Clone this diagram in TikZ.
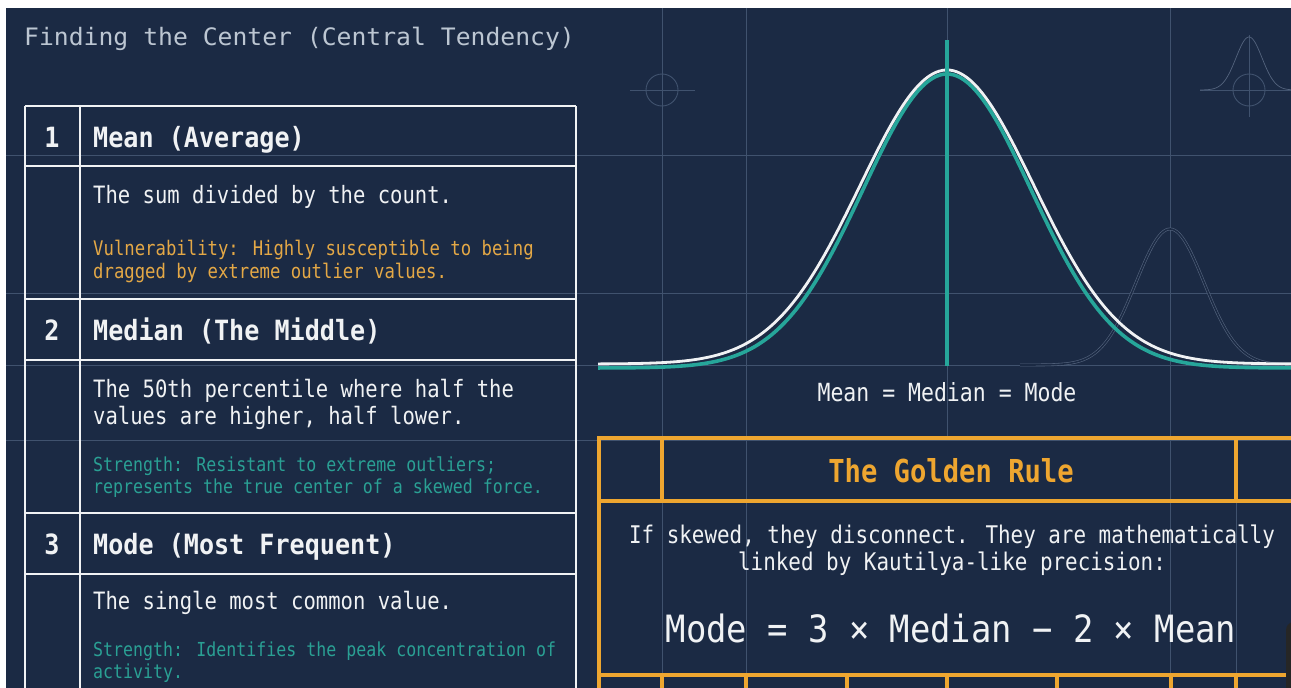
\documentclass[tikz,border=0pt]{standalone}
\usepackage{fontspec}
\newfontfamily\fbody{DejaVu Sans Mono}[FakeStretch=0.86]
\newfontfamily\fhead{DejaVu Sans Mono}[FakeStretch=0.9]
\newfontfamily\ftitle{DejaVu Sans Mono}[FakeStretch=1.03]

\definecolor{bgc}{RGB}{27,42,68}
\definecolor{gridc}{RGB}{64,82,110}
\definecolor{ghostc}{RGB}{84,100,126}
\definecolor{titlec}{RGB}{188,198,210}
\definecolor{whitec}{RGB}{240,242,244}
\definecolor{goldc}{RGB}{238,166,48}
\definecolor{goldtxt}{RGB}{228,168,70}
\definecolor{tealc}{RGB}{38,166,154}
\definecolor{tealtxt}{RGB}{42,160,148}

\begin{document}
\begin{tikzpicture}[x=1pt,y=-1pt,
  txt/.style={inner sep=0pt, anchor=base west},
  ctr/.style={inner sep=0pt, anchor=base},
  gridline/.style={draw=gridc, line width=0.9pt},
  ghost/.style={draw=ghostc, line width=0.7pt},
  tabline/.style={draw=whitec, line width=2.8pt},
  goldline/.style={draw=goldc, line width=3.1pt},
  headf/.style={font=\fhead\bfseries\fontsize{27.9}{32}\selectfont, text=whitec},
  bodyf/.style={font=\fbody\fontsize{23.9}{28}\selectfont, text=whitec},
  vulnf/.style={font=\fbody\fontsize{20.1}{23}\selectfont, text=goldtxt},
  strf/.style={font=\fbody\fontsize{19.3}{23}\selectfont, text=tealtxt}]

\useasboundingbox (0,0) rectangle (1291,688);
\fill[white] (0,0) rectangle (1291,688);
\begin{scope}
\clip (0,0) rectangle (1291,688);
\fill[bgc] (6,8) rectangle (1291,688);

% background grid
\foreach \gy in {155,293,365,440} \draw[gridline] (6,\gy) -- (1291,\gy);
\foreach \gx in {662,746,1170} \draw[gridline] (\gx,8) -- (\gx,688);
\draw[gridline] (947,8) -- (947,438);

% crosshair marks
\draw[gridline] (662,90) circle (16);
\draw[gridline] (630,90) -- (695,90);
\draw[gridline] (1249,90) circle (16);
\draw[gridline] (1200,90) -- (1291,90);
\draw[gridline] (1249,35) -- (1249,117);
\draw[ghost] plot[domain=1200:1291, samples=80, smooth]
  (\x,{90-53*exp(-0.5*((\x-1249)/13)*((\x-1249)/13))});

% faint secondary distribution
\draw[ghost, double=bgc, double distance=1.6pt, line width=0.6pt]
  plot[domain=1020:1291, samples=120, smooth]
  (\x,{365-136*exp(-0.5*((\x-1170)/34)*((\x-1170)/34))});

% main distribution
\draw[tealc, line width=3.6pt] plot[domain=598:1291, samples=200, smooth]
  (\x,{368-294*exp(-0.5*((\x-947)/84)*((\x-947)/84))});
\draw[whitec, line width=2.8pt] plot[domain=598:1291, samples=200, smooth]
  (\x,{364-294*exp(-0.5*((\x-947)/87)*((\x-947)/87))});
\draw[tealc, line width=4.6pt] (947,40) -- (947,366);

% left table
\foreach \ty in {106,166,299,360,513,574} \draw[tabline] (25,\ty) -- (576,\ty);
\foreach \tx in {25,80,576} \draw[tabline] (\tx,106) -- (\tx,700);

% golden rule table
\draw[gridline] (1236,501) -- (1236,675);
\draw[goldline] (599,700) -- (599,438) -- (1300,438);
\draw[goldline] (599,501) -- (1300,501);
\draw[goldline] (599,675) -- (1300,675);
\foreach \gx in {662,1236} \draw[goldline] (\gx,438) -- (\gx,501);
\foreach \gx in {662,746,847,947,1057,1171,1236} \draw[goldline] (\gx,675) -- (\gx,700);

% corner widget
\fill[black!85, rounded corners=8pt] (1286,622) rectangle (1320,720);
\end{scope}

% texts
\node[txt, text=titlec, font=\ftitle\fontsize{24}{28}\selectfont] (title) at (24,45) {Finding the Center (Central Tendency)};

\node[ctr, headf] (n1) at (52,147) {1};
\node[txt, headf] (h1) at (93,147) {Mean (Average)};
\node[txt, bodyf] (b1) at (93,203) {The sum divided by the count.};
\node[txt, vulnf] (v1a) at (93,255) {Vulnerability: Highly susceptible to being};
\node[txt, vulnf] (v1b) at (93,278) {dragged by extreme outlier values.};

\node[ctr, headf] (n2) at (52,340) {2};
\node[txt, headf] (h2) at (93,340) {Median (The Middle)};
\node[txt, bodyf] (b2a) at (93,397) {The 50th percentile where half the};
\node[txt, bodyf] (b2b) at (93,424) {values are higher, half lower.};
\node[txt, strf] (s2a) at (93,471) {Strength: Resistant to extreme outliers;};
\node[txt, strf] (s2b) at (93,493) {represents the true center of a skewed force.};

\node[ctr, headf] (n3) at (52,554) {3};
\node[txt, headf] (h3) at (93,554) {Mode (Most Frequent)};
\node[txt, bodyf] (b3) at (93,609) {The single most common value.};
\node[txt, strf] (s3a) at (93,656) {Strength: Identifies the peak concentration of};
\node[txt, strf] (s3b) at (93,678) {activity.};

\node[ctr, font=\fbody\fontsize{25}{29}\selectfont, text=whitec] (eq) at (947,401) {Mean = Median = Mode};

\node[ctr, font=\fbody\bfseries\fontsize{31.6}{36}\selectfont, text=goldc] (gr) at (951,482) {The Golden Rule};
\node[ctr, font=\fbody\fontsize{24.3}{29}\selectfont, text=whitec] (gb1) at (952,543) {If skewed, they disconnect. They are mathematically};
\node[ctr, font=\fbody\fontsize{24.3}{29}\selectfont, text=whitec] (gb2) at (952,570) {linked by Kautilya-like precision:};
\node[ctr, font=\fhead\fontsize{37.6}{42}\selectfont, text=whitec] (formula) at (951,642) {Mode = 3 × Median − 2 × Mean};
\end{tikzpicture}
\end{document}
